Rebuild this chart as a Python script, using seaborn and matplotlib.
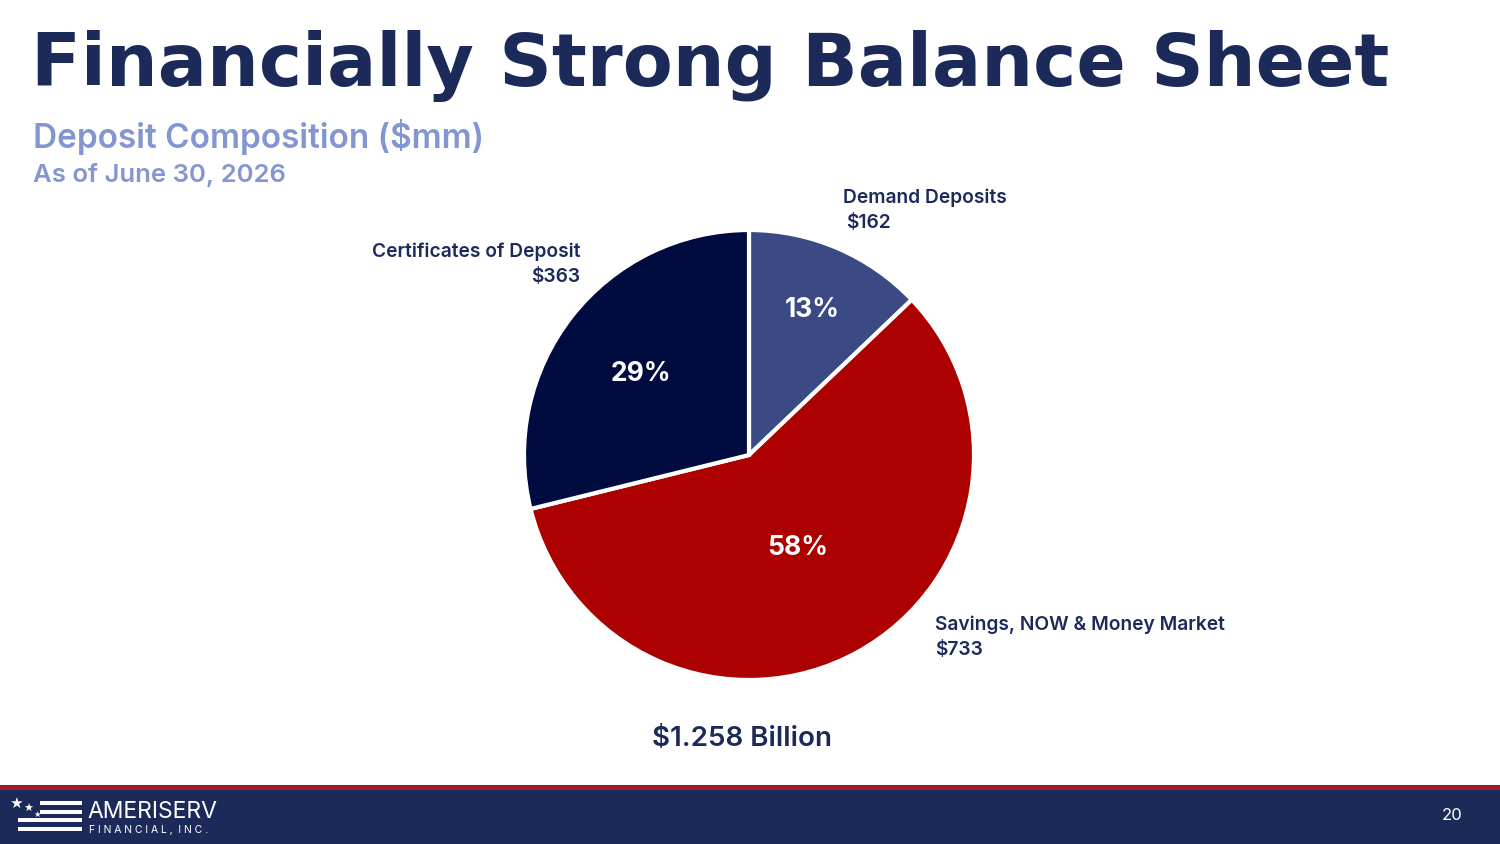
import numpy as np
import seaborn as sns
import matplotlib.pyplot as plt
from matplotlib.patches import Rectangle

# ========================
# Data
# ========================
categorias = ["Demand Deposits", "Savings, NOW & Money Market", "Certificates of Deposit"]
montos = [162, 733, 363]          # $mm
colores = ["#3b4a85", "#ad0000", "#000c3f"]
dist_pct = [0.72, 0.45, 0.61]     # radial position of the % labels
total_texto = "$1.258 Billion"

sns.set_theme(style="white")
plt.rcParams["font.family"] = ["Inter", "DejaVu Sans"]

navy = "#1c2a5a"
W, H = 1500, 844
fig = plt.figure(figsize=(15, 8.44), dpi=100)
fig.patch.set_facecolor("white")


def px(x, y):
    # pixel position (from top-left) -> figure fraction
    return x / W, 1 - y / H


# --- Title block ---
fig.text(*px(31, 66), "Financially Strong Balance Sheet", fontsize=52.5,
         fontweight="heavy", family=["DejaVu Sans"], color=navy, va="center", ha="left")
fig.text(*px(33, 137), "Deposit Composition ($mm)", fontsize=24,
         fontweight="semibold", color="#8396d0", va="center", ha="left")
fig.text(*px(33, 175), "As of June 30, 2026", fontsize=18.5,
         fontweight="semibold", color="#8396d0", va="center", ha="left")

# --- Pie ---
cx, cy, r = 749, 455, 225
ax = fig.add_axes([(cx - r) / W, (H - cy - r) / H, 2 * r / W, 2 * r / H])
wedges, _ = ax.pie(montos, colors=colores, startangle=90, counterclock=False,
                   wedgeprops=dict(edgecolor="white", linewidth=3))
ax.set_xlim(-1, 1)
ax.set_ylim(-1, 1)
ax.set_aspect("auto")
ax.axis("off")

total = sum(montos)
for w, m, d in zip(wedges, montos, dist_pct):
    ang = np.deg2rad((w.theta1 + w.theta2) / 2)
    ax.text(d * np.cos(ang), d * np.sin(ang) - 0.018, f"{m / total * 100:.0f}%",
            color="white", fontsize=19, fontweight="bold", ha="center", va="center")

# --- Outside labels ---
lab_kw = dict(fontsize=13.8, fontweight="semibold", color=navy, va="center")
fig.text(*px(843, 198), categorias[0], ha="left", **lab_kw)
fig.text(*px(846, 223), f"${montos[0]}", ha="left", **lab_kw)
fig.text(*px(935, 625), categorias[1], ha="left", **lab_kw)
fig.text(*px(935, 650), f"${montos[1]}", ha="left", **lab_kw)
fig.text(*px(580, 252), categorias[2], ha="right", **lab_kw)
fig.text(*px(580, 277), f"${montos[2]}", ha="right", **lab_kw)

fig.text(*px(742, 739), total_texto, fontsize=20, fontweight="semibold",
         color=navy, ha="center", va="center")

# --- Footer band ---
fig.patches.append(Rectangle((0, 0), 1, 54 / H, transform=fig.transFigure,
                             facecolor=navy, edgecolor="none"))
fig.patches.append(Rectangle((0, 54 / H), 1, 5 / H, transform=fig.transFigure,
                             facecolor="#a01c2c", edgecolor="none"))

# logo: stripes + stars + name
for i, x0 in enumerate([40, 40, 18, 18]):
    yc = 803 + i * 8.7
    fig.patches.append(Rectangle((x0 / W, 1 - (yc + 2) / H), (82 - x0) / W, 4 / H,
                                 transform=fig.transFigure, facecolor="white", edgecolor="none"))
for sx, sy, ss in [(16, 803, 11), (28, 809, 8), (37, 814, 6)]:
    fig.text(*px(sx, sy), "★", fontsize=ss, color="white",
             family=["DejaVu Sans"], ha="center", va="center")
fig.text(*px(87, 812), "AMERISERV", fontsize=16.5, color="white", fontweight="normal",
         ha="left", va="center")
fig.text(*px(89, 830), "F I N A N C I A L ,  I N C .", fontsize=7.5, color="white",
         ha="left", va="center")

fig.text(*px(1452, 816), "20", fontsize=12, color="white",
         ha="center", va="center")

fig.savefig("out.png", dpi=100)
